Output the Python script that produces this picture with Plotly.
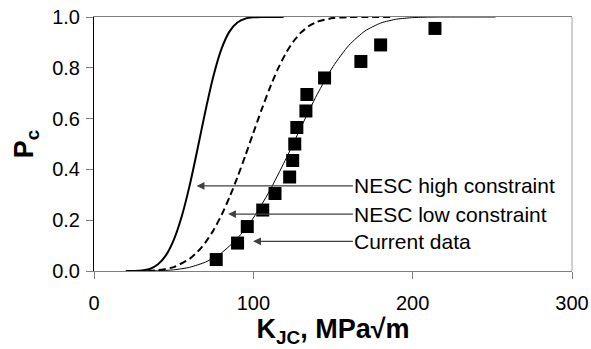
import plotly.graph_objects as go

# Fitted curves
K_high = [20, 25, 30, 35, 40, 45, 50, 55, 60, 65, 70, 75, 80, 85, 90, 95, 100, 105, 110, 119]
P_high = [0, 0.0001, 0.0016, 0.0081, 0.0253, 0.0606, 0.1216, 0.2134, 0.3361, 0.4811,
          0.6321, 0.7687, 0.8743, 0.9425, 0.9785, 0.9937, 0.9986, 0.9998, 1.0, 1.0]

K_low = [20, 30, 40, 50, 60, 65, 70, 75, 80, 85, 90, 95, 100, 105, 110, 115, 120, 125,
         130, 135, 140, 150, 160, 170, 187]
P_low = [0, 0.0002, 0.0031, 0.0154, 0.0479, 0.0755, 0.1128, 0.1608, 0.2199, 0.2897,
         0.3687, 0.4546, 0.5438, 0.6321, 0.7154, 0.7899, 0.8528, 0.9026, 0.9395, 0.9649,
         0.9812, 0.9958, 0.9994, 1.0, 1.0]

K_fit = [20, 30, 40, 50, 60, 70, 80, 90, 100, 110, 120, 130, 140, 150, 160, 170, 180,
         190, 200, 210, 220, 252]
P_fit = [0, 0.0001, 0.0009, 0.0046, 0.0145, 0.0351, 0.0714, 0.1283, 0.2088, 0.3128,
         0.4355, 0.5670, 0.6945, 0.8047, 0.8888, 0.9447, 0.9764, 0.9916, 0.9975, 0.9994,
         1.0, 1.0]

# Current data points
K_data = [76.7, 90.1, 96.2, 105.9, 113.6, 122.8, 124.7, 126.0, 127.3, 133.0, 133.6,
          144.7, 167.5, 179.9, 214.0]
P_data = [0.045, 0.110, 0.175, 0.240, 0.305, 0.370, 0.435, 0.500, 0.565, 0.630, 0.695,
          0.760, 0.825, 0.890, 0.955]

# Labels and arrow targets
labels = ["NESC high constraint", "NESC low constraint", "Current data"]
arrow_K = [64.4, 84.2, 99.9]
arrow_P = [0.335, 0.224, 0.117]
label_K = 162.5

FONT = "Liberation Sans, Arial, sans-serif"

fig = go.Figure()
fig.add_trace(go.Scatter(x=K_high, y=P_high, mode="lines",
                         line=dict(color="black", width=2, shape="spline", smoothing=0.6),
                         showlegend=False, hoverinfo="skip"))
fig.add_trace(go.Scatter(x=K_low, y=P_low, mode="lines",
                         line=dict(color="black", width=2, dash="7px,4px", shape="spline", smoothing=0.6),
                         showlegend=False, hoverinfo="skip"))
fig.add_trace(go.Scatter(x=K_fit, y=P_fit, mode="lines",
                         line=dict(color="black", width=1, shape="spline", smoothing=0.6),
                         showlegend=False, hoverinfo="skip"))
fig.add_trace(go.Scatter(x=K_data, y=P_data, mode="markers",
                         marker=dict(symbol="square", size=13, color="black"),
                         showlegend=False))

for lab, xk, yp in zip(labels, arrow_K, arrow_P):
    fig.add_annotation(x=xk, y=yp, ax=label_K, ay=yp, axref="x", ayref="y",
                       xref="x", yref="y", text=lab, showarrow=True,
                       xanchor="left", yanchor="middle", borderpad=0,
                       arrowhead=2, arrowsize=1.2, arrowwidth=1.3, arrowcolor="#404040",
                       standoff=0, startstandoff=0,
                       font=dict(family=FONT, size=21, color="black"))

# right frame border
fig.add_shape(type="line", xref="paper", yref="paper", x0=1, x1=1, y0=0, y1=1,
              line=dict(color="#a0a0a0", width=1))

fig.update_layout(
    width=591, height=349,
    margin=dict(l=94, r=19, t=17, b=78, autoexpand=False),
    paper_bgcolor="white", plot_bgcolor="white",
    font=dict(family=FONT, color="black"),
    xaxis=dict(range=[0, 300], dtick=100, tick0=0, showgrid=False, zeroline=False,
               automargin=False,
               showline=True, linecolor="#808080", linewidth=1, mirror=True,
               ticks="outside", ticklen=7, tickcolor="#808080", ticklabelstandoff=7,
               tickfont=dict(family=FONT, size=20, color="black"),
               title=dict(text="<b>K<sub>JC</sub>, MPa√m</b>",
                          font=dict(family=FONT, size=27, color="black"), standoff=6)),
    yaxis=dict(range=[0, 1], dtick=0.2, tick0=0, tickformat=".1f", showgrid=False,
               zeroline=False, automargin=False, showline=True, linecolor="black", linewidth=1,
               ticks="outside", ticklen=7, tickcolor="#808080", ticklabelstandoff=2,
               tickfont=dict(family=FONT, size=20, color="black"),
               title=dict(text="<b>P<sub>c</sub></b>",
                          font=dict(family=FONT, size=27, color="black"), standoff=10)),
)

fig.write_html("out.html", config={"displayModeBar": False},
               post_script="document.body.style.margin='0';document.body.style.padding='0';"
                           "document.documentElement.style.overflow='hidden';")
